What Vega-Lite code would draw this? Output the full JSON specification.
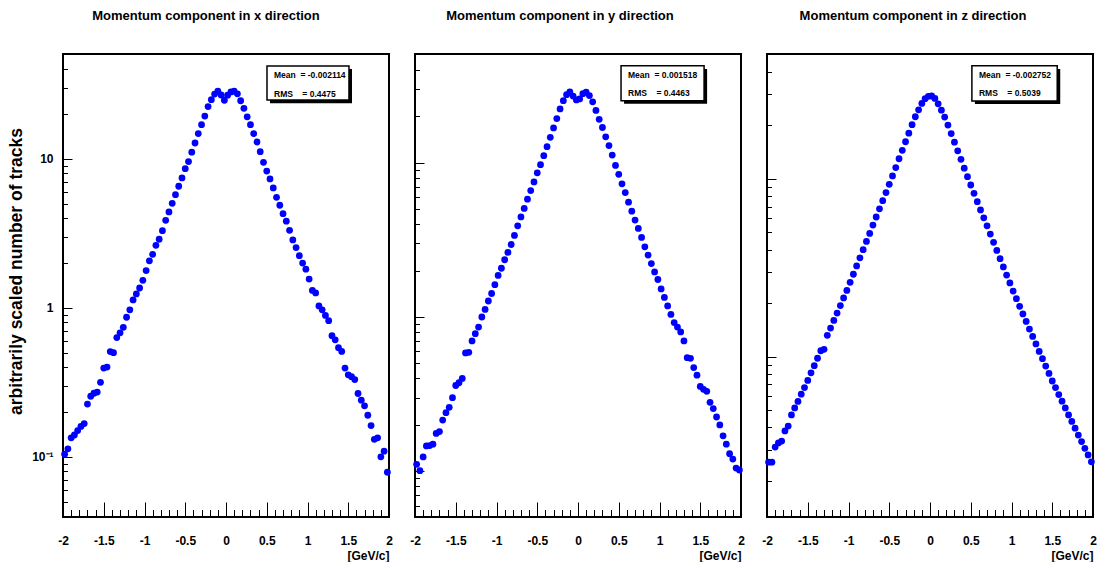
{
  "$schema": "https://vega.github.io/schema/vega-lite/v6.json",
  "background": "white",
  "padding": {"left": 6, "top": 9, "right": 2, "bottom": 6},
  "spacing": 26,
  "bounds": "flush",
  "config": {
    "font": "Liberation Sans",
    "view": {"stroke": "black", "strokeWidth": 2},
    "axis": {
      "grid": false,
      "domain": false,
      "tickColor": "black",
      "tickWidth": 1,
      "tickCount": 200,
      "labelFont": "Liberation Sans",
      "labelFontWeight": "bold",
      "labelFontSize": 12,
      "labelColor": "black",
      "titleFont": "Liberation Sans",
      "titleFontWeight": "bold",
      "titleColor": "black",
      "labelOverlap": false,
      "labelFlush": false
    },
    "title": {"font": "Liberation Sans", "fontWeight": "bold", "fontSize": 13, "color": "black"}
  },
  "datasets": {
    "px": [
      {"p":-1.98,"n":0.104},{"p":-1.94,"n":0.113},{"p":-1.90,"n":0.134},{"p":-1.86,"n":0.140},{"p":-1.82,"n":0.150},
      {"p":-1.78,"n":0.160},{"p":-1.74,"n":0.167},{"p":-1.70,"n":0.226},{"p":-1.66,"n":0.255},{"p":-1.62,"n":0.267},
      {"p":-1.58,"n":0.272},{"p":-1.54,"n":0.316},{"p":-1.50,"n":0.394},{"p":-1.46,"n":0.400},{"p":-1.42,"n":0.509},
      {"p":-1.38,"n":0.500},{"p":-1.34,"n":0.632},{"p":-1.30,"n":0.680},{"p":-1.26,"n":0.740},{"p":-1.22,"n":0.865},
      {"p":-1.18,"n":0.970},{"p":-1.14,"n":1.13},{"p":-1.10,"n":1.24},{"p":-1.06,"n":1.36},{"p":-1.02,"n":1.53},
      {"p":-0.98,"n":1.78},{"p":-0.94,"n":2.07},{"p":-0.90,"n":2.29},{"p":-0.86,"n":2.63},{"p":-0.82,"n":2.89},
      {"p":-0.78,"n":3.30},{"p":-0.74,"n":3.87},{"p":-0.70,"n":4.41},{"p":-0.66,"n":5.04},{"p":-0.62,"n":5.76},
      {"p":-0.58,"n":6.56},{"p":-0.54,"n":7.46},{"p":-0.50,"n":8.6},{"p":-0.46,"n":9.6},{"p":-0.42,"n":11.1},
      {"p":-0.38,"n":12.8},{"p":-0.34,"n":14.8},{"p":-0.30,"n":17.0},{"p":-0.26,"n":19.4},{"p":-0.22,"n":22.5},
      {"p":-0.18,"n":25.0},{"p":-0.14,"n":27.3},{"p":-0.10,"n":28.5},{"p":-0.06,"n":26.9},{"p":-0.02,"n":24.8},
      {"p":0.02,"n":26.8},{"p":0.06,"n":28.2},{"p":0.10,"n":28.5},{"p":0.14,"n":27.4},{"p":0.18,"n":24.6},
      {"p":0.22,"n":21.9},{"p":0.26,"n":19.2},{"p":0.30,"n":17.0},{"p":0.34,"n":14.8},{"p":0.38,"n":13.0},
      {"p":0.42,"n":11.2},{"p":0.46,"n":9.5},{"p":0.50,"n":8.3},{"p":0.54,"n":7.34},{"p":0.58,"n":6.39},
      {"p":0.62,"n":5.53},{"p":0.66,"n":4.89},{"p":0.70,"n":4.29},{"p":0.74,"n":3.82},{"p":0.78,"n":3.32},
      {"p":0.82,"n":2.86},{"p":0.86,"n":2.54},{"p":0.90,"n":2.24},{"p":0.94,"n":2.00},{"p":0.98,"n":1.82},
      {"p":1.02,"n":1.56},{"p":1.06,"n":1.31},{"p":1.10,"n":1.26},{"p":1.14,"n":1.03},{"p":1.18,"n":0.97},
      {"p":1.22,"n":0.89},{"p":1.26,"n":0.82},{"p":1.30,"n":0.65},{"p":1.34,"n":0.61},{"p":1.38,"n":0.54},
      {"p":1.42,"n":0.51},{"p":1.46,"n":0.394},{"p":1.50,"n":0.355},{"p":1.54,"n":0.345},{"p":1.58,"n":0.33},
      {"p":1.62,"n":0.266},{"p":1.66,"n":0.24},{"p":1.70,"n":0.22},{"p":1.74,"n":0.19},{"p":1.78,"n":0.162},
      {"p":1.82,"n":0.131},{"p":1.86,"n":0.134},{"p":1.90,"n":0.100},{"p":1.94,"n":0.109},{"p":1.98,"n":0.0787}
    ],
    "py": [
      {"p":-1.98,"n":0.111},{"p":-1.94,"n":0.101},{"p":-1.90,"n":0.124},{"p":-1.86,"n":0.146},{"p":-1.82,"n":0.147},
      {"p":-1.78,"n":0.150},{"p":-1.74,"n":0.176},{"p":-1.70,"n":0.181},{"p":-1.66,"n":0.215},{"p":-1.62,"n":0.240},
      {"p":-1.58,"n":0.260},{"p":-1.54,"n":0.300},{"p":-1.50,"n":0.360},{"p":-1.46,"n":0.375},{"p":-1.42,"n":0.400},
      {"p":-1.38,"n":0.585},{"p":-1.34,"n":0.590},{"p":-1.30,"n":0.700},{"p":-1.26,"n":0.780},{"p":-1.22,"n":0.860},
      {"p":-1.18,"n":1.00},{"p":-1.14,"n":1.12},{"p":-1.10,"n":1.27},{"p":-1.06,"n":1.42},{"p":-1.02,"n":1.62},
      {"p":-0.98,"n":1.86},{"p":-0.94,"n":2.07},{"p":-0.90,"n":2.35},{"p":-0.86,"n":2.62},{"p":-0.82,"n":2.95},
      {"p":-0.78,"n":3.38},{"p":-0.74,"n":3.90},{"p":-0.70,"n":4.45},{"p":-0.66,"n":5.05},{"p":-0.62,"n":5.80},
      {"p":-0.58,"n":6.60},{"p":-0.54,"n":7.50},{"p":-0.50,"n":8.6},{"p":-0.46,"n":9.7},{"p":-0.42,"n":11.1},
      {"p":-0.38,"n":12.7},{"p":-0.34,"n":14.6},{"p":-0.30,"n":16.8},{"p":-0.26,"n":19.3},{"p":-0.22,"n":22.3},
      {"p":-0.18,"n":25.2},{"p":-0.14,"n":27.6},{"p":-0.10,"n":28.7},{"p":-0.06,"n":27.0},{"p":-0.02,"n":25.5},
      {"p":0.02,"n":25.9},{"p":0.06,"n":28.0},{"p":0.10,"n":28.6},{"p":0.14,"n":27.2},{"p":0.18,"n":24.8},
      {"p":0.22,"n":21.8},{"p":0.26,"n":19.1},{"p":0.30,"n":16.9},{"p":0.34,"n":14.7},{"p":0.38,"n":12.9},
      {"p":0.42,"n":11.2},{"p":0.46,"n":9.6},{"p":0.50,"n":8.4},{"p":0.54,"n":7.30},{"p":0.58,"n":6.40},
      {"p":0.62,"n":5.55},{"p":0.66,"n":4.85},{"p":0.70,"n":4.25},{"p":0.74,"n":3.75},{"p":0.78,"n":3.28},
      {"p":0.82,"n":2.85},{"p":0.86,"n":2.52},{"p":0.90,"n":2.22},{"p":0.94,"n":1.96},{"p":0.98,"n":1.75},
      {"p":1.02,"n":1.52},{"p":1.06,"n":1.34},{"p":1.10,"n":1.18},{"p":1.14,"n":1.04},{"p":1.18,"n":0.92},
      {"p":1.22,"n":0.86},{"p":1.26,"n":0.80},{"p":1.30,"n":0.70},{"p":1.34,"n":0.545},{"p":1.38,"n":0.540},
      {"p":1.42,"n":0.470},{"p":1.46,"n":0.420},{"p":1.50,"n":0.355},{"p":1.54,"n":0.340},{"p":1.58,"n":0.330},
      {"p":1.62,"n":0.280},{"p":1.66,"n":0.255},{"p":1.70,"n":0.225},{"p":1.74,"n":0.200},{"p":1.78,"n":0.170},
      {"p":1.82,"n":0.150},{"p":1.86,"n":0.130},{"p":1.90,"n":0.120},{"p":1.94,"n":0.105},{"p":1.98,"n":0.102}
    ],
    "pz": [
      {"p":-1.98,"n":0.255},{"p":-1.94,"n":0.255},{"p":-1.90,"n":0.310},{"p":-1.86,"n":0.327},{"p":-1.82,"n":0.335},
      {"p":-1.78,"n":0.382},{"p":-1.74,"n":0.407},{"p":-1.70,"n":0.470},{"p":-1.66,"n":0.515},{"p":-1.62,"n":0.560},
      {"p":-1.58,"n":0.615},{"p":-1.54,"n":0.670},{"p":-1.50,"n":0.735},{"p":-1.46,"n":0.812},{"p":-1.42,"n":0.890},
      {"p":-1.38,"n":0.980},{"p":-1.34,"n":1.08},{"p":-1.30,"n":1.10},{"p":-1.26,"n":1.32},{"p":-1.22,"n":1.45},
      {"p":-1.18,"n":1.60},{"p":-1.14,"n":1.76},{"p":-1.10,"n":1.94},{"p":-1.06,"n":2.14},{"p":-1.02,"n":2.36},
      {"p":-0.98,"n":2.62},{"p":-0.94,"n":2.91},{"p":-0.90,"n":3.24},{"p":-0.86,"n":3.60},{"p":-0.82,"n":4.00},
      {"p":-0.78,"n":4.45},{"p":-0.74,"n":4.94},{"p":-0.70,"n":5.50},{"p":-0.66,"n":6.11},{"p":-0.62,"n":6.79},
      {"p":-0.58,"n":7.55},{"p":-0.54,"n":8.39},{"p":-0.50,"n":9.33},{"p":-0.46,"n":10.4},{"p":-0.42,"n":11.6},
      {"p":-0.38,"n":13.0},{"p":-0.34,"n":14.5},{"p":-0.30,"n":16.2},{"p":-0.26,"n":18.1},{"p":-0.22,"n":20.2},
      {"p":-0.18,"n":22.4},{"p":-0.14,"n":24.5},{"p":-0.10,"n":26.6},{"p":-0.06,"n":28.3},{"p":-0.02,"n":29.2},
      {"p":0.02,"n":29.3},{"p":0.06,"n":28.4},{"p":0.10,"n":26.5},{"p":0.14,"n":24.4},{"p":0.18,"n":22.3},
      {"p":0.22,"n":20.1},{"p":0.26,"n":18.0},{"p":0.30,"n":16.1},{"p":0.34,"n":14.4},{"p":0.38,"n":12.9},
      {"p":0.42,"n":11.5},{"p":0.46,"n":10.3},{"p":0.50,"n":9.25},{"p":0.54,"n":8.30},{"p":0.58,"n":7.45},
      {"p":0.62,"n":6.70},{"p":0.66,"n":6.05},{"p":0.70,"n":5.45},{"p":0.74,"n":4.90},{"p":0.78,"n":4.40},
      {"p":0.82,"n":3.96},{"p":0.86,"n":3.56},{"p":0.90,"n":3.20},{"p":0.94,"n":2.88},{"p":0.98,"n":2.60},
      {"p":1.02,"n":2.34},{"p":1.06,"n":2.12},{"p":1.10,"n":1.92},{"p":1.14,"n":1.74},{"p":1.18,"n":1.58},
      {"p":1.22,"n":1.43},{"p":1.26,"n":1.30},{"p":1.30,"n":1.18},{"p":1.34,"n":1.07},{"p":1.38,"n":0.975},
      {"p":1.42,"n":0.885},{"p":1.46,"n":0.805},{"p":1.50,"n":0.730},{"p":1.54,"n":0.670},{"p":1.58,"n":0.612},
      {"p":1.62,"n":0.562},{"p":1.66,"n":0.515},{"p":1.70,"n":0.470},{"p":1.74,"n":0.432},{"p":1.78,"n":0.396},
      {"p":1.82,"n":0.362},{"p":1.86,"n":0.333},{"p":1.90,"n":0.305},{"p":1.94,"n":0.280},{"p":1.98,"n":0.256}
    ],
    "stats": [
      {"panel": "x", "line1": "Mean\u00a0\u00a0= -0.002114", "line2": "RMS\u00a0\u00a0\u00a0\u00a0= 0.4475"},
      {"panel": "y", "line1": "Mean\u00a0\u00a0= 0.001518", "line2": "RMS\u00a0\u00a0\u00a0\u00a0= 0.4463"},
      {"panel": "z", "line1": "Mean\u00a0\u00a0= -0.002752", "line2": "RMS\u00a0\u00a0\u00a0\u00a0= 0.5039"}
    ]
  },
  "hconcat": [
    {
      "width": 326,
      "height": 463,
      "title": {"text": "Momentum component in x direction", "frame": "group", "dx": -20, "offset": 31},
      "layer": [
        {
          "data": {"name": "px"},
          "mark": {"type": "circle", "size": 46, "color": "#0000ff", "opacity": 1},
          "encoding": {
            "x": {
              "field": "p", "type": "quantitative",
              "scale": {"domain": [-2, 2], "nice": false, "zero": false},
              "axis": {
                "title": "[GeV/c]", "titleAnchor": "end", "titleFontSize": 12, "titlePadding": -3,
                "values": [-2,-1.9,-1.8,-1.7,-1.6,-1.5,-1.4,-1.3,-1.2,-1.1,-1,-0.9,-0.8,-0.7,-0.6,-0.5,-0.4,-0.3,-0.2,-0.1,0,0.1,0.2,0.3,0.4,0.5,0.6,0.7,0.8,0.9,1,1.1,1.2,1.3,1.4,1.5,1.6,1.7,1.8,1.9,2],
                "tickSize": {"condition": {"test": "abs(datum.value*2 - round(datum.value*2)) < 0.001", "value": -15}, "value": -7.5},
                "labelExpr": "abs(datum.value*2 - round(datum.value*2)) < 0.001 ? toString(datum.value) : ''",
                "labelPadding": 33
              }
            },
            "y": {
              "field": "n", "type": "quantitative",
              "scale": {"type": "log", "domain": [0.0394, 50.7], "nice": false},
              "axis": {
                "title": "arbitrarily scaled number of tracks", "titleFontSize": 17.5,
                "titleAngle": -90, "titleX": -47, "titleY": 217, "titleAlign": "center", "titleBaseline": "middle",
                "values": [0.04,0.05,0.06,0.07,0.08,0.09,0.1,0.2,0.3,0.4,0.5,0.6,0.7,0.8,0.9,1,2,3,4,5,6,7,8,9,10,20,30,40],
                "tickSize": {"condition": {"test": "datum.value == 0.1 || datum.value == 1 || datum.value == 10", "value": -9}, "value": -4.5},
                "labelExpr": "datum.value == 10 ? '10' : datum.value == 1 ? '1' : datum.value == 0.1 ? '10⁻¹' : ''",
                "labelPadding": 19
              }
            }
          }
        },
        {
          "data": {"name": "stats"},
          "transform": [{"filter": "datum.panel == 'x'"}],
          "mark": {"type": "rect", "fill": "black"},
          "encoding": {"x": {"datum": 0.54}, "x2": {"datum": 1.546}, "y": {"datum": 40.2}, "y2": {"datum": 23.7}}
        },
        {
          "data": {"name": "stats"},
          "transform": [{"filter": "datum.panel == 'x'"}],
          "mark": {"type": "rect", "fill": "white", "stroke": "black", "strokeWidth": 1.5},
          "encoding": {"x": {"datum": 0.503}, "x2": {"datum": 1.509}, "y": {"datum": 42.1}, "y2": {"datum": 24.9}}
        },
        {
          "data": {"name": "stats"},
          "transform": [{"filter": "datum.panel == 'x'"}],
          "mark": {"type": "text", "align": "left", "baseline": "middle", "fontSize": 8.5, "fontWeight": "bold", "font": "Liberation Sans", "color": "black"},
          "encoding": {"x": {"datum": 0.589}, "y": {"datum": 36.6}, "text": {"field": "line1"}}
        },
        {
          "data": {"name": "stats"},
          "transform": [{"filter": "datum.panel == 'x'"}],
          "mark": {"type": "text", "align": "left", "baseline": "middle", "fontSize": 8.5, "fontWeight": "bold", "font": "Liberation Sans", "color": "black"},
          "encoding": {"x": {"datum": 0.589}, "y": {"datum": 27.5}, "text": {"field": "line2"}}
        }
      ]
    },
    {
      "width": 326,
      "height": 463,
      "title": {"text": "Momentum component in y direction", "frame": "group", "dx": -18, "offset": 31},
      "layer": [
        {
          "data": {"name": "py"},
          "mark": {"type": "circle", "size": 46, "color": "#0000ff", "opacity": 1},
          "encoding": {
            "x": {
              "field": "p", "type": "quantitative",
              "scale": {"domain": [-2, 2], "nice": false, "zero": false},
              "axis": {
                "title": "[GeV/c]", "titleAnchor": "end", "titleFontSize": 12, "titlePadding": -3,
                "values": [-2,-1.9,-1.8,-1.7,-1.6,-1.5,-1.4,-1.3,-1.2,-1.1,-1,-0.9,-0.8,-0.7,-0.6,-0.5,-0.4,-0.3,-0.2,-0.1,0,0.1,0.2,0.3,0.4,0.5,0.6,0.7,0.8,0.9,1,1.1,1.2,1.3,1.4,1.5,1.6,1.7,1.8,1.9,2],
                "tickSize": {"condition": {"test": "abs(datum.value*2 - round(datum.value*2)) < 0.001", "value": -15}, "value": -7.5},
                "labelExpr": "abs(datum.value*2 - round(datum.value*2)) < 0.001 ? toString(datum.value) : ''",
                "labelPadding": 33
              }
            },
            "y": {
              "field": "n", "type": "quantitative",
              "scale": {"type": "log", "domain": [0.0506, 50.6], "nice": false},
              "axis": {
                "title": null, "labels": false,
                "values": [0.06,0.07,0.08,0.09,0.1,0.2,0.3,0.4,0.5,0.6,0.7,0.8,0.9,1,2,3,4,5,6,7,8,9,10,20,30,40],
                "tickSize": {"condition": {"test": "datum.value == 0.1 || datum.value == 1 || datum.value == 10", "value": -9}, "value": -4.5}
              }
            }
          }
        },
        {
          "data": {"name": "stats"},
          "transform": [{"filter": "datum.panel == 'y'"}],
          "mark": {"type": "rect", "fill": "black"},
          "encoding": {"x": {"datum": 0.565}, "x2": {"datum": 1.584}, "y": {"datum": 40.4}, "y2": {"datum": 24.1}}
        },
        {
          "data": {"name": "stats"},
          "transform": [{"filter": "datum.panel == 'y'"}],
          "mark": {"type": "rect", "fill": "white", "stroke": "black", "strokeWidth": 1.5},
          "encoding": {"x": {"datum": 0.528}, "x2": {"datum": 1.547}, "y": {"datum": 42.4}, "y2": {"datum": 25.2}}
        },
        {
          "data": {"name": "stats"},
          "transform": [{"filter": "datum.panel == 'y'"}],
          "mark": {"type": "text", "align": "left", "baseline": "middle", "fontSize": 8.5, "fontWeight": "bold", "font": "Liberation Sans", "color": "black"},
          "encoding": {"x": {"datum": 0.614}, "y": {"datum": 37.0}, "text": {"field": "line1"}}
        },
        {
          "data": {"name": "stats"},
          "transform": [{"filter": "datum.panel == 'y'"}],
          "mark": {"type": "text", "align": "left", "baseline": "middle", "fontSize": 8.5, "fontWeight": "bold", "font": "Liberation Sans", "color": "black"},
          "encoding": {"x": {"datum": 0.614}, "y": {"datum": 28.1}, "text": {"field": "line2"}}
        }
      ]
    },
    {
      "width": 326,
      "height": 463,
      "title": {"text": "Momentum component in z direction", "frame": "group", "dx": -17, "offset": 31},
      "layer": [
        {
          "data": {"name": "pz"},
          "mark": {"type": "circle", "size": 46, "color": "#0000ff", "opacity": 1},
          "encoding": {
            "x": {
              "field": "p", "type": "quantitative",
              "scale": {"domain": [-2, 2], "nice": false, "zero": false},
              "axis": {
                "title": "[GeV/c]", "titleAnchor": "end", "titleFontSize": 12, "titlePadding": -3,
                "values": [-2,-1.9,-1.8,-1.7,-1.6,-1.5,-1.4,-1.3,-1.2,-1.1,-1,-0.9,-0.8,-0.7,-0.6,-0.5,-0.4,-0.3,-0.2,-0.1,0,0.1,0.2,0.3,0.4,0.5,0.6,0.7,0.8,0.9,1,1.1,1.2,1.3,1.4,1.5,1.6,1.7,1.8,1.9,2],
                "tickSize": {"condition": {"test": "abs(datum.value*2 - round(datum.value*2)) < 0.001", "value": -15}, "value": -7.5},
                "labelExpr": "abs(datum.value*2 - round(datum.value*2)) < 0.001 ? toString(datum.value) : ''",
                "labelPadding": 33
              }
            },
            "y": {
              "field": "n", "type": "quantitative",
              "scale": {"type": "log", "domain": [0.1253, 50.5], "nice": false},
              "axis": {
                "title": null, "labels": false,
                "values": [0.2,0.3,0.4,0.5,0.6,0.7,0.8,0.9,1,2,3,4,5,6,7,8,9,10,20,30,40],
                "tickSize": {"condition": {"test": "datum.value == 0.1 || datum.value == 1 || datum.value == 10", "value": -9}, "value": -4.5}
              }
            }
          }
        },
        {
          "data": {"name": "stats"},
          "transform": [{"filter": "datum.panel == 'z'"}],
          "mark": {"type": "rect", "fill": "black"},
          "encoding": {"x": {"datum": 0.551}, "x2": {"datum": 1.598}, "y": {"datum": 41.6}, "y2": {"datum": 26.4}}
        },
        {
          "data": {"name": "stats"},
          "transform": [{"filter": "datum.panel == 'z'"}],
          "mark": {"type": "rect", "fill": "white", "stroke": "black", "strokeWidth": 1.5},
          "encoding": {"x": {"datum": 0.514}, "x2": {"datum": 1.561}, "y": {"datum": 43.3}, "y2": {"datum": 27.5}}
        },
        {
          "data": {"name": "stats"},
          "transform": [{"filter": "datum.panel == 'z'"}],
          "mark": {"type": "text", "align": "left", "baseline": "middle", "fontSize": 8.5, "fontWeight": "bold", "font": "Liberation Sans", "color": "black"},
          "encoding": {"x": {"datum": 0.601}, "y": {"datum": 38.5}, "text": {"field": "line1"}}
        },
        {
          "data": {"name": "stats"},
          "transform": [{"filter": "datum.panel == 'z'"}],
          "mark": {"type": "text", "align": "left", "baseline": "middle", "fontSize": 8.5, "fontWeight": "bold", "font": "Liberation Sans", "color": "black"},
          "encoding": {"x": {"datum": 0.601}, "y": {"datum": 30.3}, "text": {"field": "line2"}}
        }
      ]
    }
  ]
}
